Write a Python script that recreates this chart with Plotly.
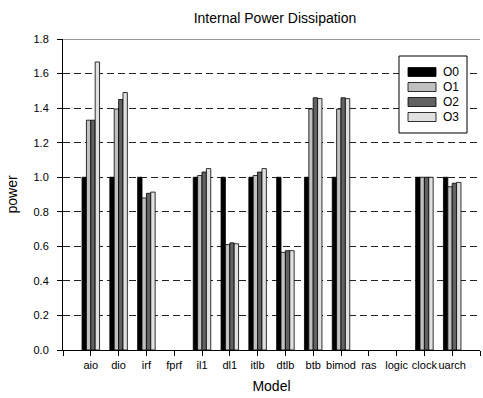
import plotly.graph_objects as go

categories = ["aio", "dio", "irf", "fprf", "il1", "dl1", "itlb", "dtlb",
              "btb", "bimod", "ras", "logic", "clock", "uarch"]
series_names = ["O0", "O1", "O2", "O3"]
O0 = [1.0, 1.0, 1.0, None, 1.0, 1.0, 1.0, 1.0, 1.0, 1.0, None, None, 1.0, 1.0]
O1 = [1.33, 1.395, 0.88, None, 1.01, 0.61, 1.01, 0.565, 1.395, 1.395, None, None, 1.0, 0.945]
O2 = [1.33, 1.45, 0.907, None, 1.03, 0.62, 1.03, 0.575, 1.46, 1.46, None, None, 1.0, 0.965]
O3 = [1.667, 1.49, 0.914, None, 1.05, 0.615, 1.05, 0.575, 1.455, 1.455, None, None, 1.0, 0.97]
colors = ["#000000", "#c0c0c0", "#626262", "#e0e0e0"]
y_ticks = [0.0, 0.2, 0.4, 0.6, 0.8, 1.0, 1.2, 1.4, 1.6, 1.8]

positions = list(range(1, len(categories) + 1))
FONT = "Arial, Liberation Sans, sans-serif"

W, H = 483, 398
ML, MR, MT, MB = 63, 3, 39, 48
PW, PH = W - ML - MR, H - MT - MB

def px_x(p):
    return (p - ML) / PW

def px_y(p):
    return (H - MB - p) / PH

fig = go.Figure()
for name, vals, col in zip(series_names, [O0, O1, O2, O3], colors):
    fig.add_trace(go.Bar(
        x=positions, y=vals, name=name,
        marker=dict(color=col, line=dict(color="#000000", width=0.8)),
    ))

fig.update_layout(
    width=W, height=H,
    margin=dict(l=ML, r=MR, t=MT, b=MB),
    paper_bgcolor="white", plot_bgcolor="white",
    barmode="group", bargap=0.37, bargroupgap=0,
    font=dict(family=FONT, size=11, color="black"),
    title=dict(text="Internal Power Dissipation", x=275 / W, xanchor="center",
               y=1 - 18 / H, yanchor="middle", font=dict(size=14, family=FONT)),
    showlegend=False,
    xaxis=dict(range=[0, len(categories) + 1],
               tickmode="array",
               tickvals=list(range(0, len(categories) + 2)),
               ticktext=[""] + categories + [""],
               tickangle=0, automargin=False,
               ticks="outside", ticklen=5, tickcolor="black",
               showline=True, linecolor="black", linewidth=1,
               showgrid=False, zeroline=False,
               tickfont=dict(size=11, family=FONT),
               title=dict(text="Model", font=dict(size=14, family=FONT), standoff=10)),
    yaxis=dict(range=[0, 1.8],
               tickmode="array", tickvals=y_ticks,
               ticktext=[f"{v:.1f}" for v in y_ticks],
               ticks="outside", ticklen=5, tickcolor="black",
               ticklabelstandoff=6, automargin=False,
               showline=True, linecolor="black", linewidth=1,
               showgrid=True, gridcolor="#222222", gridwidth=1, griddash="7px,4px",
               zeroline=False,
               tickfont=dict(size=11, family=FONT),
               title=dict(text="power", font=dict(size=14, family=FONT), standoff=12)),
)
fig.add_shape(type="line", xref="paper", yref="y", x0=0, x1=1, y0=1.8, y1=1.8,
              line=dict(color="#777777", width=1.5))

# custom legend (wide swatches like the reference)
box_l, box_r, box_t, box_b = 399, 467, 56, 133
fig.add_shape(type="rect", xref="paper", yref="paper",
              x0=px_x(box_l), x1=px_x(box_r), y0=px_y(box_b), y1=px_y(box_t),
              line=dict(color="black", width=1), fillcolor="white", layer="above")
for i, (name, col) in enumerate(zip(series_names, colors)):
    cy = 72 + 15 * i
    fig.add_shape(type="rect", xref="paper", yref="paper",
                  x0=px_x(408), x1=px_x(436), y0=px_y(cy + 4.5), y1=px_y(cy - 4.5),
                  line=dict(color="black", width=0.8), fillcolor=col, layer="above")
    fig.add_annotation(x=px_x(441), y=px_y(cy), xref="paper", yref="paper",
                       text=name, showarrow=False, xanchor="left", yanchor="middle",
                       font=dict(size=12, family=FONT, color="black"))

fig.write_html("out.html")
